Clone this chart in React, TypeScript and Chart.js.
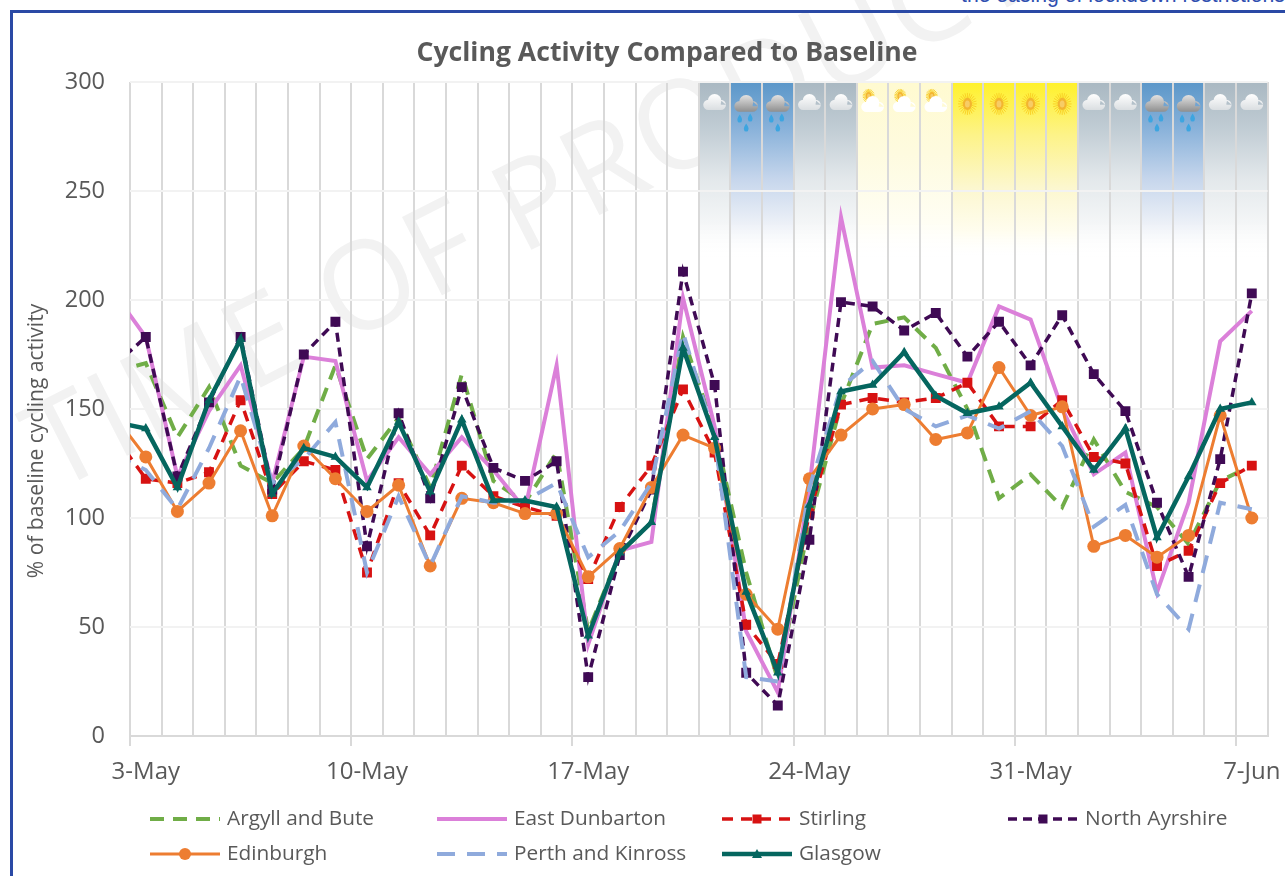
import React, { useEffect, useRef } from "react";
import { Chart, registerables } from "chart.js";

Chart.register(...registerables);

const FONT = '"Open Sans", sans-serif';
const TEXT = "#595959";

// First value in each list is 2-May, which lies just left of the axis and is clipped.
const argyll = [167, 171, 137, 160, 124, 116, 132, 170, 127, 146, 114, 166, 117, 107, 130, 48, 84, 98, 183, 140, 75, 26, 98, 152, 189, 192, 178, 150, 109, 120, 105, 136, 112, 105, 88, 117, 124];
const eastDunbarton = [203, 183, 119, 149, 170, 116, 174, 172, 117, 137, 120, 137, 122, 104, 170, 42, 85, 89, 201, 142, 48, 20, 114, 238, 169, 170, 166, 162, 197, 191, 150, 120, 130, 66, 107, 181, 195];
const stirling = [138, 118, 116, 121, 154, 111, 126, 122, 75, 116, 92, 124, 110, 105, 101, 72, 105, 124, 159, 130, 51, 33, 102, 152, 155, 153, 155, 162, 142, 142, 154, 128, 125, 78, 85, 116, 124];
const northAyrshire = [170, 183, 119, 153, 183, 113, 175, 190, 87, 148, 109, 160, 123, 117, 126, 27, 83, 113, 213, 161, 29, 14, 90, 199, 197, 186, 194, 174, 190, 170, 193, 166, 149, 107, 73, 127, 203];
const edinburgh = [147, 128, 103, 116, 140, 101, 133, 118, 103, 115, 78, 109, 107, 102, 102, 73, 86, 114, 138, 132, 65, 49, 118, 138, 150, 152, 136, 139, 169, 147, 151, 87, 92, 82, 92, 147, 100];
const perthKinross = [129, 122, 104, 132, 165, 116, 127, 144, 75, 110, 78, 110, 107, 108, 116, 82, 94, 116, 185, 137, 27, 25, 114, 160, 172, 150, 142, 147, 141, 149, 133, 96, 106, 65, 49, 107, 104];
const glasgow = [144, 141, 114, 154, 182, 111, 132, 128, 114, 144, 112, 145, 108, 108, 105, 46, 84, 98, 178, 137, 66, 29, 106, 158, 161, 176, 156, 148, 151, 162, 142, 122, 141, 91, 119, 150, 153];

const tickLabels = ["3-May", "10-May", "17-May", "24-May", "31-May", "7-Jun"];
const yTicks = { min: 0, max: 300, step: 50 };
const dayCount = 36;
const weatherStartDay = 18;
const weather = ["cloud", "rain", "rain", "cloud", "cloud", "partly", "partly", "partly", "sun", "sun", "sun", "sun", "cloud", "cloud", "rain", "rain", "cloud", "cloud"];

const seriesStyles = [
  { label: "Argyll and Bute", data: argyll, color: "#70AD47", width: 4, dash: [14, 9], style: false, radius: 0 },
  { label: "East Dunbarton", data: eastDunbarton, color: "#DB80D9", width: 4, dash: [], style: false, radius: 0 },
  { label: "Stirling", data: stirling, color: "#D71212", width: 3.5, dash: [11, 8], style: "rect", radius: 7 },
  { label: "North Ayrshire", data: northAyrshire, color: "#3F0A54", width: 3.5, dash: [9, 6], style: "rect", radius: 7 },
  { label: "Edinburgh", data: edinburgh, color: "#ED7D31", width: 3, dash: [], style: "circle", radius: 6.5 },
  { label: "Perth and Kinross", data: perthKinross, color: "#8FAADC", width: 4, dash: [18, 12], style: false, radius: 0 },
  { label: "Glasgow", data: glasgow, color: "#05665F", width: 4.5, dash: [], style: "triangle", radius: 5.5 },
];

const gradients: Record<string, [number, string][]> = {
  cloud: [[0, "#A9B8C2"], [0.25, "#BFCBD3"], [0.55, "#E3E8EB"], [0.8, "#F4F6F7"], [1, "rgba(255,255,255,0)"]],
  rain: [[0, "#5B97C9"], [0.25, "#86B0D9"], [0.55, "#C6D6EC"], [0.8, "#ECF0F7"], [1, "rgba(255,255,255,0)"]],
  partly: [[0, "#FFFAD0"], [0.4, "#FEFBDF"], [0.8, "#FFFEF4"], [1, "rgba(255,255,255,0)"]],
  sun: [[0, "#FFF12A"], [0.3, "#FDF388"], [0.6, "#FCF7CF"], [0.85, "#FFFDEF"], [1, "rgba(255,255,255,0)"]],
};

function cloud(ctx: CanvasRenderingContext2D, cx: number, top: number, w: number, c1: string, c2: string) {
  const h = w * 0.7;
  const g = ctx.createLinearGradient(0, top, 0, top + h);
  g.addColorStop(0, c1);
  g.addColorStop(1, c2);
  ctx.fillStyle = g;
  ctx.beginPath();
  ctx.arc(cx, top + h * 0.42, h * 0.42, 0, Math.PI * 2);
  ctx.arc(cx - w * 0.27, top + h * 0.68, h * 0.32, 0, Math.PI * 2);
  ctx.arc(cx + w * 0.27, top + h * 0.68, h * 0.32, 0, Math.PI * 2);
  ctx.rect(cx - w * 0.27, top + h * 0.5, w * 0.54, h * 0.5);
  ctx.fill();
}

function sun(ctx: CanvasRenderingContext2D, cx: number, cy: number, r: number) {
  ctx.strokeStyle = "rgba(248,205,30,0.85)";
  ctx.lineWidth = 1;
  for (let a = 0; a < 24; a++) {
    const t = (a * Math.PI) / 12;
    ctx.beginPath();
    ctx.moveTo(cx + Math.cos(t) * r * 0.4, cy + Math.sin(t) * r * 0.5);
    ctx.lineTo(cx + Math.cos(t) * r * 0.85, cy + Math.sin(t) * r);
    ctx.stroke();
  }
  ctx.fillStyle = "#F3B52F";
  ctx.beginPath();
  ctx.ellipse(cx, cy, r * 0.42, r * 0.55, 0, 0, Math.PI * 2);
  ctx.fill();
  ctx.fillStyle = "#F7CC66";
  ctx.beginPath();
  ctx.ellipse(cx, cy, r * 0.22, r * 0.32, 0, 0, Math.PI * 2);
  ctx.fill();
}

function drop(ctx: CanvasRenderingContext2D, cx: number, cy: number) {
  ctx.fillStyle = "#3DA5E0";
  ctx.beginPath();
  ctx.moveTo(cx, cy - 4.5);
  ctx.quadraticCurveTo(cx + 3, cy, cx + 2.2, cy + 1.5);
  ctx.arc(cx, cy + 1.5, 2.2, 0, Math.PI);
  ctx.quadraticCurveTo(cx - 3, cy, cx, cy - 4.5);
  ctx.fill();
}

const weatherPlugin = {
  id: "weatherBands",
  beforeDraw(chart: any) {
    const { ctx, scales, chartArea } = chart;
    const x = scales.x;
    const bottom = scales.y.getPixelForValue(219);
    ctx.save();
    weather.forEach((kind, i) => {
      const left = x.getPixelForValue(weatherStartDay + i);
      const right = x.getPixelForValue(weatherStartDay + i + 1);
      const g = ctx.createLinearGradient(0, chartArea.top, 0, bottom);
      gradients[kind].forEach(([s, c]) => g.addColorStop(s, c));
      ctx.fillStyle = g;
      ctx.fillRect(left, chartArea.top, right - left, bottom - chartArea.top);
    });
    ctx.restore();
  },
  afterDatasetsDraw(chart: any) {
    const { ctx, scales, chartArea } = chart;
    const x = scales.x;
    const t = chartArea.top;
    ctx.save();
    weather.forEach((kind, i) => {
      const cx = x.getPixelForValue(weatherStartDay + i + 0.5);
      if (kind === "cloud") {
        cloud(ctx, cx, t + 12, 23, "#FFFFFF", "#DADEE1");
      } else if (kind === "rain") {
        cloud(ctx, cx, t + 13, 24, "#E2E2E2", "#8F8F8F");
        drop(ctx, cx - 6.5, t + 37);
        drop(ctx, cx + 4, t + 36);
        drop(ctx, cx, t + 46);
      } else if (kind === "partly") {
        sun(ctx, cx - 4, t + 14, 7);
        cloud(ctx, cx, t + 14, 23, "#FFFFFF", "#FFFFFF");
      } else {
        sun(ctx, cx, t + 22, 11);
      }
    });
    ctx.restore();
  },
};

const layoutPlugin = {
  id: "placement",
  afterLayout(chart: any) {
    chart.titleBlock.left = 49;
    chart.titleBlock.right = 1285;
  },
  afterDraw(chart: any) {
    const { ctx } = chart;
    ctx.save();
    ctx.fillStyle = TEXT;
    ctx.font = `21px ${FONT}`;
    ctx.textAlign = "center";
    ctx.textBaseline = "middle";
    ctx.translate(37, 441);
    ctx.rotate(-Math.PI / 2);
    ctx.fillText("% of baseline cycling activity", 0, 0);
    ctx.restore();

    const colX = [150, 437, 722, 1008];
    const rowY = [819, 854];
    const sampleW = 70;
    ctx.save();
    ctx.font = `20.8px ${FONT}`;
    ctx.textBaseline = "middle";
    seriesStyles.forEach((s, i) => {
      const cx = colX[i % 4];
      const my = rowY[Math.floor(i / 4)];
      ctx.strokeStyle = s.color;
      ctx.fillStyle = s.color;
      ctx.lineWidth = s.width;
      ctx.setLineDash(s.dash);
      ctx.beginPath();
      ctx.moveTo(cx, my);
      ctx.lineTo(cx + sampleW, my);
      ctx.stroke();
      ctx.setLineDash([]);
      const mx = cx + sampleW / 2;
      ctx.beginPath();
      if (s.style === "rect") ctx.rect(mx - 4.5, my - 4.5, 9, 9);
      if (s.style === "circle") ctx.arc(mx, my, 6, 0, Math.PI * 2);
      if (s.style === "triangle") {
        ctx.moveTo(mx, my - 5);
        ctx.lineTo(mx + 5, my + 4);
        ctx.lineTo(mx - 5, my + 4);
        ctx.closePath();
      }
      ctx.fill();
      ctx.fillStyle = TEXT;
      ctx.fillText(s.label, cx + sampleW + 7, my + 0.5);
    });
    ctx.restore();
  },
};

export default function App() {
  const ref = useRef<HTMLCanvasElement>(null);
  useEffect(() => {
    const chart = new Chart(ref.current!, {
      type: "line",
      data: {
        datasets: seriesStyles.map((s, i) => ({
          label: s.label,
          data: s.data.map((v, d) => ({ x: d - 0.5, y: v })),
          borderColor: s.color,
          backgroundColor: s.color,
          borderWidth: s.width,
          borderDash: s.dash,
          pointStyle: s.style as any,
          pointRadius: s.radius,
          pointBorderWidth: 0,
          tension: 0,
          fill: false,
          order: -i,
        })),
      },
      options: {
        responsive: false,
        animation: false,
        layout: { padding: { left: 0, right: 17.4, top: 0, bottom: 0 } },
        plugins: {
          legend: { display: false },
          tooltip: { enabled: false },
          title: {
            display: true,
            text: "Cycling Activity Compared to Baseline",
            color: TEXT,
            font: { family: FONT, size: 26.6, weight: "bold" },
            padding: { top: 37, bottom: 13 },
          },
        },
        scales: {
          x: {
            type: "linear",
            min: 0,
            max: dayCount,
            afterFit(scale: any) { scale.height = 140; },
            border: { color: "#D9D9D9", width: 2 },
            grid: {
              color: "#D9D9D9",
              lineWidth: 2,
              tickLength: 10,
              tickColor: (c: any) => (c.tick && c.tick.value % 7 === 0 ? "#D9D9D9" : "rgba(0,0,0,0)"),
            },
            ticks: {
              stepSize: 1,
              autoSkip: false,
              maxRotation: 0,
              minRotation: 0,
              labelOffset: 15.8,
              padding: 12,
              color: TEXT,
              font: { family: FONT, size: 24 },
              callback: (v: any) => (v % 7 === 0 ? tickLabels[v / 7] ?? "" : ""),
            },
          },
          y: {
            min: yTicks.min,
            max: yTicks.max,
            afterFit(scale: any) { scale.width = 130; },
            border: { display: false },
            grid: { color: "#F2F2F2", lineWidth: 2, drawTicks: false },
            ticks: {
              stepSize: yTicks.step,
              padding: 25,
              color: TEXT,
              font: { family: FONT, size: 23.5 },
            },
          },
        },
      },
      plugins: [weatherPlugin, layoutPlugin],
    } as any);
    return () => chart.destroy();
  }, []);

  return (
    <div style={{ position: "fixed", left: 0, top: 0, width: 1285, height: 876, overflow: "hidden", background: "#fff" }}>
      <div style={{ position: "absolute", left: 54, top: 371, whiteSpace: "nowrap", fontFamily: FONT, fontSize: 123, letterSpacing: 2.5, lineHeight: "150px", color: "#F2F2F2", transformOrigin: "0 122.7px", transform: "rotate(-27deg)" }}>
        TIME OF PRODUCTION
      </div>
      <div style={{ position: "absolute", left: 10, top: 10, width: 1400, height: 1000, border: "3px solid #2A49A5", boxSizing: "border-box" }} />
      <div style={{ position: "absolute", left: 961, top: -17, whiteSpace: "nowrap", fontFamily: '"Liberation Sans", sans-serif', fontSize: 21.2, color: "#2F4FB0" }}>
        the easing of lockdown restrictions
      </div>
      <canvas ref={ref} width={1285} height={876} style={{ position: "absolute", left: 0, top: 0 }} />
    </div>
  );
}
